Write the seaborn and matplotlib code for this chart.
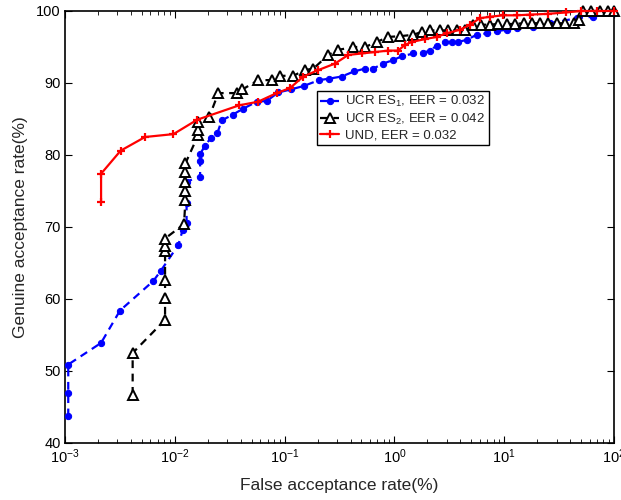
import numpy as np
import pandas as pd
import matplotlib
matplotlib.use("Agg")
import matplotlib.pyplot as plt
import seaborn as sns
from matplotlib.ticker import LogLocator, FixedLocator

# ROC data: false acceptance rate (%) vs genuine acceptance rate (%)
far_es1 = [0.00107, 0.00107, 0.00107, 0.00213, 0.00317, 0.00637, 0.00744, 0.01076,
           0.0118, 0.0128, 0.0128, 0.0128, 0.0170, 0.0170, 0.0170, 0.0188, 0.0214,
           0.0244, 0.0267, 0.0337, 0.0415, 0.0557, 0.0687, 0.0877, 0.114, 0.150,
           0.206, 0.254, 0.331, 0.428, 0.540, 0.642, 0.792, 0.977, 1.165, 1.49,
           1.83, 2.11, 2.43, 2.89, 3.32, 3.82, 4.55, 5.62, 6.93, 8.55, 10.5, 13.0,
           18.3, 26.1, 45.7, 64.4, 100.0]
gar_es1 = [43.7, 47.0, 50.9, 53.9, 58.4, 62.5, 63.9, 67.5,
           69.6, 70.5, 73.3, 76.3, 77.0, 79.1, 80.1, 81.3, 82.4,
           83.0, 84.8, 85.6, 86.4, 87.4, 87.5, 88.7, 89.1, 89.6,
           90.4, 90.6, 90.9, 91.6, 92.0, 92.0, 92.7, 93.2, 93.7, 94.1,
           94.2, 94.5, 95.2, 95.7, 95.7, 95.7, 96.0, 96.7, 96.9, 97.2, 97.4, 97.6,
           97.8, 98.3, 99.0, 99.2, 99.7]

far_es2 = [0.00413, 0.00413, 0.00815, 0.00815, 0.00815, 0.00815, 0.00815, 0.00815,
           0.01213, 0.0125, 0.0125, 0.0125, 0.0125, 0.0125, 0.01637, 0.01637, 0.01637,
           0.0206, 0.0249, 0.0371, 0.0412, 0.0576, 0.0762, 0.0908, 0.120, 0.153,
           0.183, 0.250, 0.308, 0.422, 0.540, 0.690, 0.880, 1.125, 1.49, 1.77,
           2.11, 2.6, 3.1, 3.7, 4.4, 5.2, 6.2, 7.4, 8.8, 10.5, 12.5, 15.0, 18.0,
           21.0, 25.0, 30.0, 36.0, 43.0, 48.0, 52.0, 62.0, 75.0, 88.0, 100.0]
gar_es2 = [46.7, 52.5, 57.1, 60.1, 62.7, 66.6, 67.3, 68.4,
           70.4, 73.75, 75.0, 76.3, 77.7, 78.85, 82.8, 83.5, 84.6,
           85.3, 88.6, 88.6, 89.1, 90.4, 90.4, 91.0, 91.0, 91.8,
           92.0, 93.9, 94.6, 95.0, 95.0, 95.7, 96.4, 96.5, 96.7, 97.1,
           97.3, 97.3, 97.3, 97.3, 97.3, 98.0, 98.1, 98.1, 98.2, 98.2, 98.2, 98.3, 98.3,
           98.3, 98.3, 98.3, 98.3, 98.3, 98.8, 100.0, 100.0, 100.0, 100.0, 100.0]

far_und = [0.00213, 0.00213, 0.00321, 0.00536, 0.00971, 0.016, 0.0386, 0.0573,
           0.0847, 0.112, 0.148, 0.203, 0.288, 0.38, 0.503, 0.665, 0.88, 1.08,
           1.25, 1.44, 1.9, 2.43, 2.99, 3.96, 4.88, 6.02, 7.43, 9.75, 13.0, 17.2,
           25.0, 36.6, 50.0, 70.0, 100.0]
gar_und = [73.5, 77.4, 80.6, 82.5, 82.9, 84.9, 86.9, 87.4,
           88.6, 89.3, 90.9, 91.8, 92.7, 93.9, 94.1, 94.3, 94.5, 94.5,
           95.3, 95.7, 96.1, 96.4, 96.9, 97.4, 98.1, 99.0, 99.2, 99.4, 99.4, 99.5,
           99.6, 99.8, 100.0, 100.0, 100.0]

labels = ["UCR ES$_{1}$, EER = 0.032", "UCR ES$_{2}$, EER = 0.042", "UND, EER = 0.032"]
y_ticks = [40, 50, 60, 70, 80, 90, 100]

sns.set_style("ticks")
plt.rcParams["font.family"] = ["Liberation Sans", "DejaVu Sans"]
plt.rcParams["mathtext.default"] = "regular"
plt.rcParams["mathtext.fontset"] = "custom"
plt.rcParams["mathtext.rm"] = "Liberation Sans"

fig = plt.figure(figsize=(6.21, 5.0), dpi=100)
ax = fig.add_axes([0.1047, 0.114, 0.884, 0.864])

df1 = pd.DataFrame({"far": far_es1, "gar": gar_es1})
df2 = pd.DataFrame({"far": far_es2, "gar": gar_es2})
df3 = pd.DataFrame({"far": far_und, "gar": gar_und})

sns.lineplot(data=df1, x="far", y="gar", sort=False, estimator=None, ax=ax,
             color="#0000ff", linestyle=(0, (3.5, 2.5)), linewidth=1.6, marker="o",
             markersize=4.5, markeredgecolor="#0000ff", label=labels[0],
             clip_on=False, zorder=3)
sns.lineplot(data=df2, x="far", y="gar", sort=False, estimator=None, ax=ax,
             color="black", linestyle=(0, (3.5, 2.5)), linewidth=1.6, marker="^",
             markersize=7, markerfacecolor="white", markeredgecolor="black",
             markeredgewidth=1.4, label=labels[1], clip_on=False, zorder=4)
sns.lineplot(data=df3, x="far", y="gar", sort=False, estimator=None, ax=ax,
             color="#ff0000", linestyle="-", linewidth=1.6, marker="+",
             markersize=6, markeredgewidth=1.6, markeredgecolor="#ff0000",
             label=labels[2], clip_on=False, zorder=5)

ax.set_xscale("log")
ax.set_xlim(1e-3, 1e2)
ax.set_ylim(40, 100)
ax.yaxis.set_major_locator(FixedLocator(y_ticks))
ax.xaxis.set_major_locator(LogLocator(base=10, numticks=10))
ax.xaxis.set_minor_locator(LogLocator(base=10, subs=np.arange(2, 10), numticks=20))

ax.tick_params(axis="both", which="both", direction="in", top=True, right=True,
               labelsize=10.5, colors="black")
ax.tick_params(axis="y", which="major", pad=3)
ax.tick_params(which="major", length=5, width=0.8)
ax.tick_params(which="minor", length=3, width=0.6)
for s in ax.spines.values():
    s.set_visible(True)
    s.set_linewidth(1.2)
    s.set_color("black")

ax.set_xlabel("False acceptance rate(%)", fontsize=12.5, labelpad=8)
ax.set_ylabel("Genuine acceptance rate(%)", fontsize=12.5, labelpad=6)

leg = ax.legend(loc="upper left", bbox_to_anchor=(0.459, 0.815), fontsize=9.5,
                frameon=True, fancybox=False, edgecolor="black", framealpha=1,
                handlelength=1.4, handletextpad=0.5, borderpad=0.25,
                labelspacing=0.2, borderaxespad=0)
leg.get_frame().set_linewidth(1.0)

fig.savefig("out.png", dpi=100)
